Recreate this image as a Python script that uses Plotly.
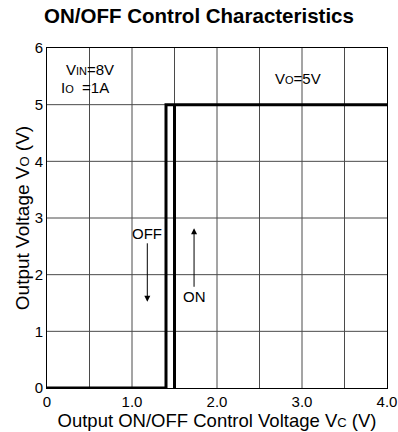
import plotly.graph_objects as go

# Data
off_x = [0, 1.4, 1.4, 4.0]
off_y = [0, 0, 5, 5]
on_x = [1.5, 1.5]
on_y = [0, 5]
x_ticks = [0, 1.0, 2.0, 3.0, 4.0]
x_tick_labels = ["0", "1.0", "2.0", "3.0", "4.0"]
y_ticks = [0, 1, 2, 3, 4, 5, 6]
x_grid = [0.5, 1.0, 1.5, 2.0, 2.5, 3.0, 3.5]
y_grid = [1, 2, 3, 4, 5]

FONT = "Liberation Sans, Arial, sans-serif"

def sm(t, size=11):
    return '<span style="font-size:%dpx">%s</span>' % (size, t)

fig = go.Figure()

for gx in x_grid:
    fig.add_trace(go.Scatter(x=[gx, gx], y=[0, 6], mode="lines",
                             line=dict(color="#4a4a4a", width=1), hoverinfo="skip", showlegend=False))
for gy in y_grid:
    fig.add_trace(go.Scatter(x=[0, 4], y=[gy, gy], mode="lines",
                             line=dict(color="#4a4a4a", width=1), hoverinfo="skip", showlegend=False))

fig.add_trace(go.Scatter(x=off_x, y=off_y, mode="lines",
                         line=dict(color="black", width=3), showlegend=False))
fig.add_trace(go.Scatter(x=on_x, y=on_y, mode="lines",
                         line=dict(color="black", width=3), showlegend=False))

ann = [
    dict(x=0.5, y=5.62, text="V" + sm("IN") + "=8V", showarrow=False, xanchor="center"),
    dict(x=0.45, y=5.3, text="I" + sm("O") + "  =1A", showarrow=False, xanchor="center"),
    dict(x=2.95, y=5.47, text="V" + sm("O") + "=5V", showarrow=False, xanchor="center"),
    dict(x=1.175, y=2.73, text="OFF", showarrow=False),
    dict(x=1.74, y=1.61, text="ON", showarrow=False),
    dict(x=1.18, y=1.52, ax=1.18, ay=2.58, axref="x", ayref="y",
         text="", showarrow=True, arrowhead=2, arrowsize=1.2, arrowwidth=1, arrowcolor="black"),
    dict(x=1.73, y=2.82, ax=1.73, ay=1.76, axref="x", ayref="y",
         text="", showarrow=True, arrowhead=2, arrowsize=1.2, arrowwidth=1, arrowcolor="black"),
]
for a in ann:
    a["xref"] = "x"
    a["yref"] = "y"
    a["font"] = dict(family=FONT, size=15, color="black")
    fig.add_annotation(**a)

fig.update_layout(
    width=398, height=432,
    margin=dict(l=47, r=11, t=48, b=44),
    paper_bgcolor="white", plot_bgcolor="white",
    font=dict(family=FONT, size=15, color="black"),
    title=dict(text="<b>ON/OFF Control Characteristics</b>", x=0.5, xanchor="center",
               y=1 - 16 / 432, yanchor="middle", automargin=False,
               font=dict(family=FONT, size=20.5, color="black")),
    xaxis=dict(range=[0, 4], tickvals=x_ticks, ticktext=x_tick_labels, showgrid=False,
               zeroline=False, showline=True, linecolor="black", linewidth=1, mirror=True,
               ticks="", ticklen=0, tickfont=dict(size=15), automargin=False,
               title=dict(text="Output ON/OFF Control Voltage V" + sm("C", 13) + " (V)",
                          font=dict(size=18.5), standoff=0)),
    yaxis=dict(range=[0, 6], tickvals=y_ticks, showgrid=False,
               zeroline=False, showline=True, linecolor="black", linewidth=1, mirror=True,
               ticks="", ticklen=0, tickfont=dict(size=15), automargin=False,
               title=dict(text="Output Voltage V" + sm("O", 13) + " (V)",
                          font=dict(size=19), standoff=0)),
)

fig.write_html("out.html", config={"displayModeBar": False},
               post_script="document.body.style.margin='0';")
